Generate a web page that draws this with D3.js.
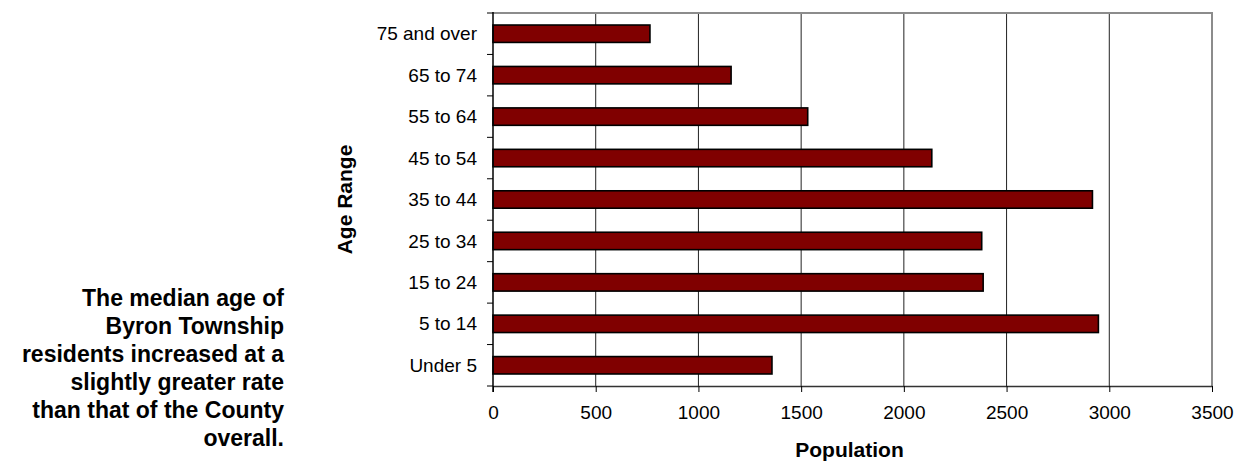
<!DOCTYPE html>
<html>
<head>
<meta charset="utf-8">
<script src="https://cdn.jsdelivr.net/npm/d3@7/dist/d3.min.js"></script>
<style>
  body { margin: 0; background: #fff; }
  text { font-family: "Liberation Sans", Arial, sans-serif; fill: #000; }
</style>
</head>
<body>
<svg id="chart" width="1238" height="462"></svg>
<script>
var categories = ['Under 5', '5 to 14', '15 to 24', '25 to 34', '35 to 44', '45 to 54', '55 to 64', '65 to 74', '75 and over'];
var population = [1358, 2947, 2386, 2379, 2918, 2136, 1532, 1159, 764];
var xTicks = [0, 500, 1000, 1500, 2000, 2500, 3000, 3500];
var noteLines = ['The median age of', 'Byron Township', 'residents increased at a', 'slightly greater rate', 'than that of the County', 'overall.'];

(function() {
  var svg = d3.select('#chart');
  var plotLeft = 493, plotRight = 1212, plotTop = 13, plotBottom = 386;

  var x = d3.scaleLinear().domain([0, 3500]).range([plotLeft, plotRight]);
  // first category sits at the bottom
  var y = d3.scaleBand()
    .domain(categories.slice().reverse())
    .range([plotTop, plotBottom])
    .paddingInner(0.58)
    .paddingOuter(0.29);

  // vertical gridlines
  svg.append('g')
    .selectAll('line')
    .data(xTicks.slice(1, -1))
    .enter().append('line')
    .attr('x1', (d) => x(d)).attr('x2', (d) => x(d))
    .attr('y1', plotTop).attr('y2', plotBottom)
    .attr('stroke', '#222').attr('stroke-width', 1);

  // frame: top and right in grey
  svg.append('path')
    .attr('d', 'M' + plotLeft + ',' + plotTop + 'H' + plotRight + 'V' + plotBottom)
    .attr('fill', 'none').attr('stroke', '#8c8c8c').attr('stroke-width', 2);

  // bars
  svg.append('g')
    .selectAll('rect')
    .data(categories)
    .enter().append('rect')
    .attr('x', x(0))
    .attr('y', (d) => y(d))
    .attr('width', (d, i) => x(population[i]) - x(0))
    .attr('height', y.bandwidth())
    .attr('fill', '#800000')
    .attr('stroke', '#000')
    .attr('stroke-width', 1.6);

  // x axis
  var xAxis = svg.append('g')
    .attr('transform', 'translate(0,' + plotBottom + ')')
    .call(d3.axisBottom(x).tickValues(xTicks).tickFormat(d3.format('d')).tickSize(6).tickSizeOuter(0).tickPadding(14));
  xAxis.attr('font-size', 19).attr('font-family', '"Liberation Sans", Arial, sans-serif');
  xAxis.select('.domain').attr('stroke', '#333').attr('stroke-width', 1.5);
  xAxis.selectAll('.tick line').attr('stroke', '#000');
  xAxis.selectAll('.tick text').attr('fill', '#000');

  // y axis: ticks on category boundaries
  var step = y.step();
  var bounds = d3.range(categories.length + 1).map((i) => plotTop + i * step);
  svg.append('g')
    .selectAll('line')
    .data(bounds)
    .enter().append('line')
    .attr('x1', plotLeft - 6).attr('x2', plotLeft)
    .attr('y1', (d) => d).attr('y2', (d) => d)
    .attr('stroke', '#000').attr('stroke-width', 1);
  svg.append('line')
    .attr('x1', plotLeft).attr('x2', plotLeft)
    .attr('y1', plotTop - 1).attr('y2', plotBottom + 6)
    .attr('stroke', '#000').attr('stroke-width', 1.5);

  svg.append('g')
    .selectAll('text')
    .data(categories)
    .enter().append('text')
    .attr('x', plotLeft - 16)
    .attr('y', (d) => y(d) + y.bandwidth() / 2)
    .attr('dy', '0.35em')
    .attr('text-anchor', 'end')
    .attr('font-size', 19)
    .text((d) => d);

  // axis titles
  svg.append('text')
    .attr('x', (plotLeft + plotRight) / 2 - 3).attr('y', 457)
    .attr('text-anchor', 'middle')
    .attr('font-size', 21).attr('font-weight', 'bold')
    .text('Population');

  svg.append('text')
    .attr('transform', 'translate(352,' + (plotTop + plotBottom) / 2 + ') rotate(-90)')
    .attr('text-anchor', 'middle')
    .attr('font-size', 21).attr('font-weight', 'bold')
    .text('Age Range');

  // side note
  svg.append('g')
    .selectAll('text')
    .data(noteLines)
    .enter().append('text')
    .attr('x', 284)
    .attr('y', (d, i) => 306 + i * 28)
    .attr('text-anchor', 'end')
    .attr('font-size', 23).attr('font-weight', 'bold')
    .text((d) => d);
})();
</script>
</body>
</html>
